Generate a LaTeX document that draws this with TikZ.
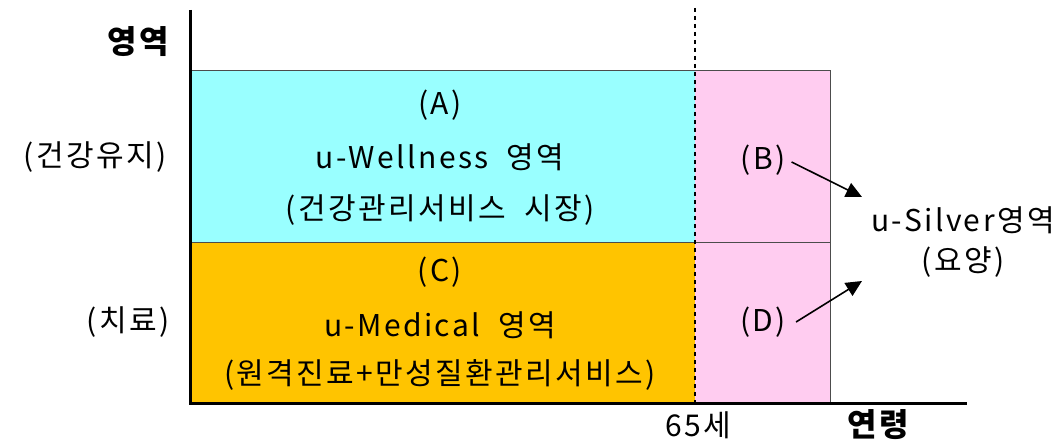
\documentclass[tikz,border=0pt]{standalone}
\usepackage{fontspec}
\setmainfont[LetterSpace=8,WordSpace=2]{Noto Sans CJK KR}
\usetikzlibrary{arrows.meta}
\definecolor{cyanbox}{HTML}{99FFFF}
\definecolor{orangebox}{HTML}{FFC400}
\definecolor{pinkbox}{HTML}{FFCCF0}
\begin{document}
\begin{tikzpicture}[x=1pt,y=-1pt,
  lbl/.style={font=\fontsize{30}{34}\selectfont, inner sep=0pt, anchor=center},
  blbl/.style={font=\fontsize{32}{36}\selectfont\bfseries, inner sep=0pt, anchor=center},
  axis/.style={line width=3pt},
  conn/.style={line width=1.6pt, -{Triangle[length=16pt,width=15pt]}},
  region/.style={draw=black!70, line width=1pt}]
\useasboundingbox (0,0) rectangle (1060,443);
% regions
\fill[cyanbox] (190,71) rectangle (695,243);
\fill[orangebox] (190,243) rectangle (695,403);
\fill[pinkbox] (695,71) rectangle (830,403);
\draw[region] (190,71) -- (830,71) -- (830,403);
\draw[region] (190,243) -- (830,243);
% dotted line
\draw[line width=2.5pt, dash pattern=on 4pt off 4pt] (695,8) -- (695,403);
% axes
\draw[axis] (190,10) -- (190,403) -- (967,403);
% axis labels
\node[blbl] (ylab) at (138,42) {영역};
\node[blbl] (xlab) at (878,425) {연령};
\node[lbl] (age) at (698,425) {65세};
\node[lbl] (health) at (95,157) {(건강유지)};
\node[lbl] (treat) at (128,322) {(치료)};
% A
\node[lbl] (A) at (440,105) {(A)};
\node[lbl] (Aname) at (440,157) {u-Wellness 영역};
\node[lbl] (Adesc) at (440,210) {(건강관리서비스 시장)};
% C
\node[lbl] (C) at (440,272) {(C)};
\node[lbl] (Cname) at (440,325) {u-Medical 영역};
\node[lbl] (Cdesc) at (440,375) {(원격진료+만성질환관리서비스)};
% B, D
\node[lbl] (B) at (763,160) {(B)};
\node[lbl] (D) at (763,322) {(D)};
% Silver
\node[lbl] (silver) at (963,220) {u-Silver영역};
\node[lbl] (yoyang) at (963,262) {(요양)};
\coordinate (bt) at (862,197);
\coordinate (dt) at (862,281);
\draw[conn] (B.east) ++(6,2) -- (bt);
\draw[conn] (D.east) ++(10,0) -- (dt);
\end{tikzpicture}
\end{document}
